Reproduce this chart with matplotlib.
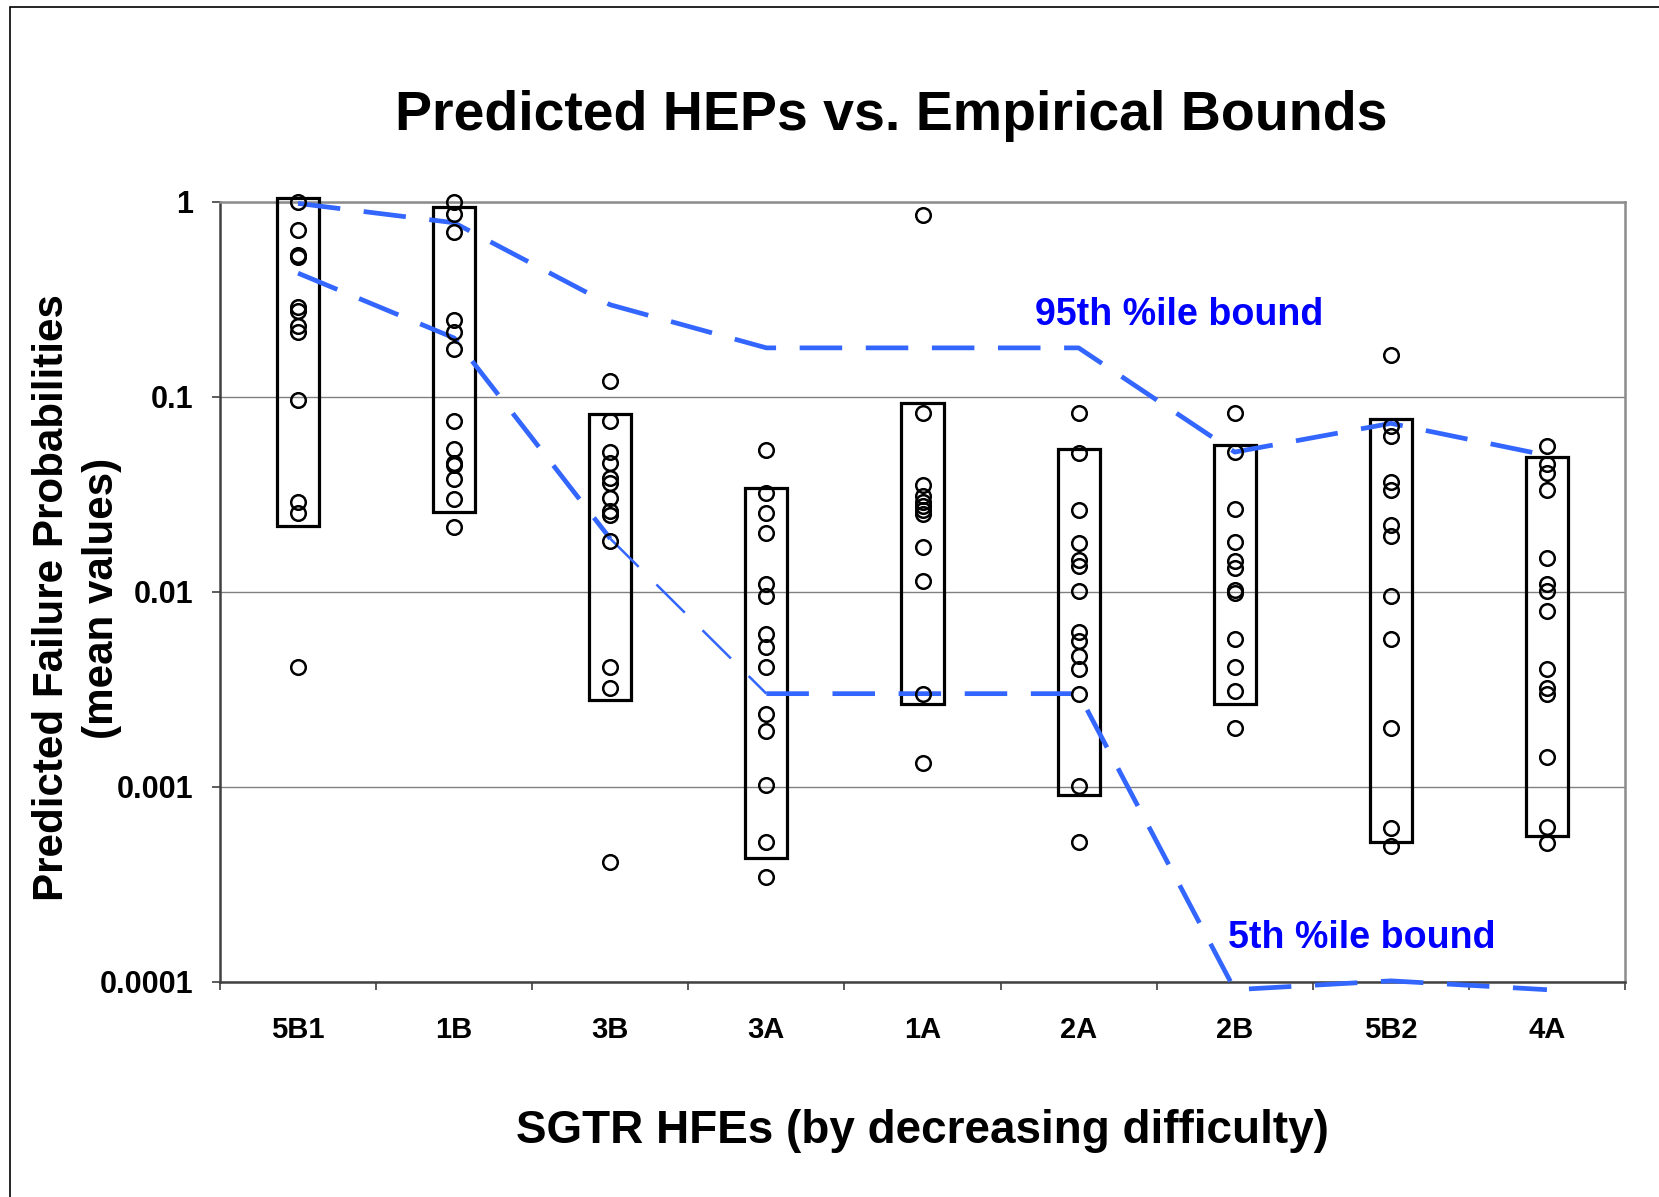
import numpy as np
import matplotlib
matplotlib.use("Agg")
import matplotlib.pyplot as plt
from matplotlib.patches import Rectangle
from matplotlib.ticker import NullLocator

plt.rcParams["font.family"] = ["Liberation Sans", "DejaVu Sans"]
plt.rcParams["font.weight"] = "bold"

# HFEs ordered by decreasing difficulty
categories = ["5B1", "1B", "3B", "3A", "1A", "2A", "2B", "5B2", "4A"]

# predicted HEPs (mean values) for each HFE
hep_5B1 = [1.0, 0.72, 0.53, 0.52, 0.29, 0.275, 0.23, 0.215, 0.096, 0.029, 0.0254, 0.0041]
hep_1B = [1.0, 0.86, 0.70, 0.247, 0.214, 0.175, 0.075, 0.054, 0.0455, 0.0445, 0.038, 0.030, 0.0215]
hep_3B = [0.121, 0.0753, 0.052, 0.0456, 0.0383, 0.0362, 0.0301, 0.0258, 0.0247, 0.0182, 0.0041, 0.0032, 0.00041]
hep_3A = [0.0536, 0.0321, 0.0253, 0.0201, 0.0109, 0.0095, 0.0061, 0.0052, 0.0041, 0.00236, 0.00194, 0.00102, 0.00052, 0.000346]
hep_1A = [0.857, 0.0828, 0.0354, 0.0308, 0.0287, 0.0274, 0.0261, 0.0249, 0.0169, 0.0113, 0.0030, 0.00133]
hep_2A = [0.0828, 0.0514, 0.0261, 0.0177, 0.0146, 0.0136, 0.0101, 0.0062, 0.0056, 0.0047, 0.0040, 0.0030, 0.00101, 0.00052]
hep_2B = [0.0827, 0.0518, 0.0264, 0.0180, 0.0143, 0.0133, 0.0102, 0.0099, 0.0057, 0.0041, 0.0031, 0.0020]
hep_5B2 = [0.164, 0.0711, 0.0629, 0.0366, 0.0334, 0.0221, 0.0193, 0.0095, 0.0057, 0.0020, 0.000615, 0.000494]
hep_4A = [0.0556, 0.0452, 0.0407, 0.0333, 0.0148, 0.0109, 0.0101, 0.0080, 0.0040, 0.0032, 0.0030, 0.00142, 0.00062, 0.000515]
heps = [hep_5B1, hep_1B, hep_3B, hep_3A, hep_1A, hep_2A, hep_2B, hep_5B2, hep_4A]

# box extents
box_low = [0.0217, 0.0257, 0.00277, 0.00043, 0.00264, 0.00091, 0.00265, 0.000522, 0.00056]
box_high = [1.04, 0.936, 0.0815, 0.0339, 0.093, 0.0538, 0.0564, 0.0767, 0.0492]

# empirical bounds
bound95 = [0.98, 0.78, 0.296, 0.178, 0.178, 0.178, 0.052, 0.073, 0.050]
bound5 = [0.43, 0.20, 0.0187, 0.0030, 0.0030, 0.0030, 0.000091, 0.000101, 0.000091]

ytick_values = [0.0001, 0.001, 0.01, 0.1, 1]
ytick_labels = ["0.0001", "0.001", "0.01", "0.1", "1"]

W, H = 1659, 1197
fig = plt.figure(figsize=(W / 100, H / 100), dpi=100)
ax = fig.add_axes([220 / W, 1 - 981.7 / H, 1405 / W, 780 / H])
ax.set_yscale("log")
ax.set_ylim(1e-4, 1)
ax.set_xlim(-0.5, len(categories) - 0.5)

x = np.arange(len(categories))
box_w = 0.27
for i in range(len(categories)):
    ax.add_patch(Rectangle((x[i] - box_w / 2, box_low[i]), box_w,
                           box_high[i] - box_low[i], fill=False,
                           ec="black", lw=2.3, zorder=3, clip_on=False))

blue = "#3366FF"
dash = (9, 5)
ax.plot(x, bound95, color=blue, lw=3.4, dashes=dash, zorder=4, clip_on=False)
ax.plot(x[:3], bound5[:3], color=blue, lw=3.4, dashes=dash, zorder=4, clip_on=False)
ax.plot(x[2:4], bound5[2:4], color=blue, lw=1.8, dashes=(16, 10), zorder=4, clip_on=False)
ax.plot(x[3:], bound5[3:], color=blue, lw=3.4, dashes=dash, zorder=4, clip_on=False)

for i, vals in enumerate(heps):
    ax.plot(np.full(len(vals), x[i]), vals, "o", mfc="none", mec="black",
            ms=10.5, mew=1.8, zorder=5, clip_on=False)

ax.text(4.72, 0.233, "95th %ile bound", color="#0000FF", fontsize=27.1,
        fontweight="bold", ha="left", va="baseline")
ax.text(5.96, 1.48e-4, "5th %ile bound", color="#0000FF", fontsize=27.1,
        fontweight="bold", ha="left", va="baseline")

# axes styling
ax.yaxis.set_minor_locator(NullLocator())
ax.set_yticks(ytick_values)
ax.set_yticklabels(ytick_labels)
ax.yaxis.grid(True, which="major", color="#808080", lw=1.0)
ax.set_axisbelow(True)
ax.tick_params(axis="y", length=5.8, width=1.2, pad=13.7, labelsize=22,
               color="#404040")

ax.set_xticks(np.arange(-0.5, len(categories), 1))
ax.set_xticklabels([])
ax.set_xticks(x, minor=True)
ax.set_xticklabels(categories, minor=True)
ax.tick_params(axis="x", which="major", length=5.8, width=1.2, color="#404040")
ax.tick_params(axis="x", which="minor", length=0, pad=25, labelsize=21)

for s in ["top", "right"]:
    ax.spines[s].set_color("#8c8c8c")
    ax.spines[s].set_linewidth(1.8)
for s in ["left", "bottom"]:
    ax.spines[s].set_color("#404040")
    ax.spines[s].set_linewidth(1.8)

fig.text(891 / W, 1 - 130 / H, "Predicted HEPs vs. Empirical Bounds",
         fontsize=40, fontweight="bold", ha="center", va="baseline")
fig.text(922 / W, 1 - 1143 / H, "SGTR HFEs (by decreasing difficulty)",
         fontsize=33, fontweight="bold", ha="center", va="baseline")
fig.text(77 / W, 1 - 598 / H, "Predicted Failure Probabilities\n(mean values)",
         fontsize=30.3, fontweight="bold", rotation=90, ha="center",
         va="center", multialignment="center", linespacing=1.3)

# outer frame, cut off at right and bottom
fig.add_artist(Rectangle((9.5 / W, -0.1), 1.2, 1 - 6.5 / H + 0.1,
                         transform=fig.transFigure, fill=False,
                         ec="black", lw=1.2))

fig.savefig("out.png", dpi=100)
